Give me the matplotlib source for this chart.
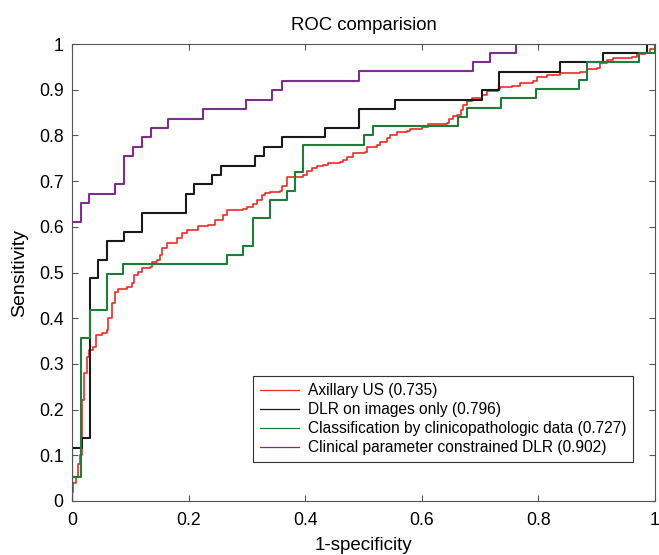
import matplotlib
matplotlib.use("Agg")
from matplotlib import pyplot as plt

# ROC curves (false positive rate, true positive rate)
us_fpr = [0, 0.0022, 0.0069, 0.0108, 0.0137, 0.0166, 0.0206, 0.0252, 0.0297, 0.0365,
          0.0412, 0.0509, 0.0595, 0.0623, 0.0681, 0.0738, 0.0794, 0.0938, 0.1024, 0.1063,
          0.1137, 0.1196, 0.1338, 0.1367, 0.1453, 0.1509, 0.1539, 0.1624, 0.1738, 0.1796,
          0.1882, 0.1967, 0.2166, 0.2338, 0.2453, 0.2595, 0.2653, 0.2938, 0.2997, 0.311,
          0.3168, 0.3254, 0.331, 0.3396, 0.3568, 0.3597, 0.3683, 0.3967, 0.4026, 0.4111,
          0.4197, 0.431, 0.4396, 0.4597, 0.4654, 0.4712, 0.4825, 0.5026, 0.5055, 0.5226,
          0.5283, 0.5398, 0.5455, 0.557, 0.5741, 0.5798, 0.5998, 0.6112, 0.6427, 0.6472,
          0.654, 0.6598, 0.6667, 0.6712, 0.677, 0.6856, 0.7027, 0.7113, 0.7312, 0.7341,
          0.7542, 0.7684, 0.7913, 0.7971, 0.8142, 0.837, 0.8714, 0.8828, 0.90, 0.9057,
          0.9172, 0.9285, 0.96, 0.9686, 0.9828, 0.9914, 1.0]
us_tpr = [0.02, 0.039, 0.053, 0.082, 0.10, 0.22, 0.28, 0.316, 0.33, 0.338,
          0.363, 0.367, 0.374, 0.40, 0.433, 0.458, 0.463, 0.468, 0.476, 0.495,
          0.502, 0.509, 0.513, 0.524, 0.527, 0.538, 0.553, 0.564, 0.565, 0.575,
          0.586, 0.594, 0.602, 0.604, 0.615, 0.626, 0.637, 0.638, 0.644, 0.65,
          0.659, 0.67, 0.675, 0.677, 0.679, 0.689, 0.71, 0.713, 0.723, 0.728,
          0.732, 0.735, 0.74, 0.742, 0.746, 0.752, 0.761, 0.763, 0.774, 0.779,
          0.786, 0.794, 0.801, 0.808, 0.81, 0.815, 0.818, 0.825, 0.828, 0.837,
          0.842, 0.845, 0.856, 0.867, 0.876, 0.881, 0.888, 0.898, 0.901, 0.907,
          0.908, 0.914, 0.918, 0.928, 0.932, 0.936, 0.939, 0.945, 0.947, 0.958,
          0.965, 0.969, 0.972, 0.978, 0.981, 0.99, 1.0]

dlr_fpr = [0, 0, 0.0166, 0.031, 0.045, 0.0595, 0.090, 0.1195, 0.195, 0.2093, 0.240,
           0.2556, 0.314, 0.329, 0.360, 0.434, 0.493, 0.554, 0.703, 0.732, 0.837,
           0.911, 0.986, 1.0]
dlr_tpr = [0, 0.117, 0.138, 0.487, 0.527, 0.569, 0.589, 0.631, 0.672, 0.694, 0.713,
           0.734, 0.755, 0.775, 0.796, 0.816, 0.857, 0.877, 0.899, 0.939, 0.961,
           0.981, 1.0, 1.0]

clin_fpr = [0, 0, 0.015, 0.030, 0.0595, 0.088, 0.2653, 0.2938, 0.31, 0.3396, 0.3683,
            0.3825, 0.3967, 0.5009, 0.5168, 0.6626, 0.677, 0.7358, 0.7959, 0.8696,
            0.8828, 0.9726, 1.0]
clin_tpr = [0, 0.053, 0.356, 0.419, 0.497, 0.518, 0.538, 0.559, 0.619, 0.659, 0.679,
            0.72, 0.78, 0.801, 0.82, 0.84, 0.861, 0.881, 0.901, 0.921,
            0.961, 0.981, 1.0]

cdlr_fpr = [0, 0, 0.0149, 0.0297, 0.0738, 0.0897, 0.104, 0.120, 0.135, 0.164, 0.2247,
            0.298, 0.3436, 0.3597, 0.4928, 0.6873, 0.717, 0.7616, 1.0]
cdlr_tpr = [0, 0.61, 0.651, 0.672, 0.694, 0.755, 0.775, 0.796, 0.816, 0.837, 0.858,
            0.878, 0.899, 0.92, 0.94, 0.961, 0.981, 1.0, 1.0]

labels = ["Axillary US (0.735)",
          "DLR on images only (0.796)",
          "Classification by clinicopathologic data (0.727)",
          "Clinical parameter constrained DLR (0.902)"]
colors = ["#ee2b24", "#1a1a1a", "#1e7d38", "#7e2f8e"]

xticks = [0, 0.2, 0.4, 0.6, 0.8, 1]
xticklabels = ["0", "0.2", "0.4", "0.6", "0.8", "1"]
yticks = [0, 0.1, 0.2, 0.3, 0.4, 0.5, 0.6, 0.7, 0.8, 0.9, 1]
yticklabels = ["0", "0.1", "0.2", "0.3", "0.4", "0.5", "0.6", "0.7", "0.8", "0.9", "1"]

plt.rcParams["font.family"] = ["Liberation Sans", "DejaVu Sans"]

fig = plt.figure(figsize=(6.59, 5.55), dpi=100)
ax = fig.add_axes([0.1093, 0.0973, 0.8846, 0.8234])

curves = [(us_fpr, us_tpr, 1.2), (dlr_fpr, dlr_tpr, 1.5),
          (clin_fpr, clin_tpr, 1.5), (cdlr_fpr, cdlr_tpr, 1.5)]
for (fx, ty, lw), lab, c in zip(curves, labels, colors):
    ax.plot(fx, ty, drawstyle="steps-post", color=c, lw=lw, label=lab)

ax.set_xlim(0, 1)
ax.set_ylim(0, 1)
ax.set_xticks(xticks)
ax.set_xticklabels(xticklabels)
ax.set_yticks(yticks)
ax.set_yticklabels(yticklabels)
ax.tick_params(direction="in", top=True, right=True, length=4, width=0.8,
               color="#555555", labelsize=12.7)
ax.tick_params(axis="x", pad=8)
ax.tick_params(axis="y", pad=6)
for s in ax.spines.values():
    s.set_color("#555555")
    s.set_linewidth(0.8)

ax.set_title("ROC comparision", fontsize=13.3, pad=10)
ax.set_xlabel("1-specificity", fontsize=13.5, labelpad=5.5)
ax.set_ylabel("Sensitivity", fontsize=14, labelpad=8)

leg = ax.legend(loc="lower right", bbox_to_anchor=(0.9623, 0.0853), fontsize=11.2,
                fancybox=False, framealpha=1, edgecolor="#333333",
                handlelength=2.5, borderpad=0.45, labelspacing=0.25,
                handletextpad=0.55, borderaxespad=0)
leg.get_frame().set_linewidth(0.8)
for h in leg.get_lines():
    h.set_linewidth(0.9)

fig.savefig("out.png", dpi=100)
